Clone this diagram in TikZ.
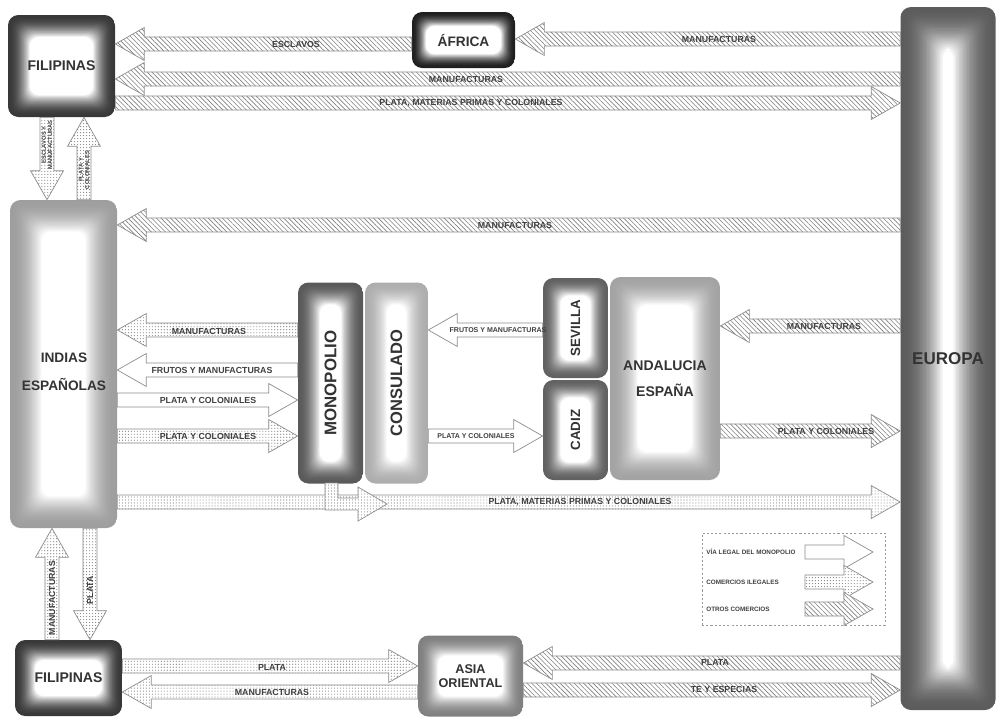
\documentclass[tikz,border=0pt]{standalone}
\usepackage{fontspec}
\setmainfont{Liberation Sans}
\usetikzlibrary{calc,patterns.meta}

\newcommand{\pxu}{0.02cm}
\newcommand{\shaftw}{4pt}
\newcommand{\headw}{9.4pt}
\newcommand{\headl}{16.5}

% horizontal block arrow: style, tail, tip, y
\newcommand{\harrow}[4]{%
  \draw[#1] let \p1=(#2), \p2=(#3), \p3=(0,#4), \n1={sign(\x2-\x1)*\headl} in
    (\x1,{\y3+\shaftw}) -- ({\x2-(\n1)},{\y3+\shaftw}) -- ({\x2-(\n1)},{\y3+\headw})
    -- (\x2,\y3) -- ({\x2-(\n1)},{\y3-\headw}) -- ({\x2-(\n1)},{\y3-\shaftw})
    -- (\x1,{\y3-\shaftw}) -- cycle;}

% vertical block arrow: style, tail, tip, x
\newcommand{\varrow}[4]{%
  \draw[#1] let \p1=(#2), \p2=(#3), \p3=(#4,0), \n1={sign(\y2-\y1)*\headl} in
    ({\x3+\shaftw},\y1) -- ({\x3+\shaftw},{\y2-(\n1)}) -- ({\x3+\headw},{\y2-(\n1)})
    -- (\x3,\y2) -- ({\x3-\headw},{\y2-(\n1)}) -- ({\x3-\shaftw},{\y2-(\n1)})
    -- ({\x3-\shaftw},\y1) -- cycle;}

\tikzset{
  flow/.style={draw=black!45, line width=0.4pt, preaction={fill=white}},
  legal/.style={flow},
  ilegal/.style={flow, pattern={Dots[distance=1.7pt, radius=0.32pt]}, pattern color=black!50},
  otros/.style={flow, pattern={Lines[angle=-45, distance=1.9pt, line width=0.35pt]}, pattern color=black!50},
  lbl/.style={inner sep=0pt, text=black!75, font=\fontsize{5}{6}\selectfont\bfseries},
  lbls/.style={lbl, font=\fontsize{4}{4.5}\selectfont\bfseries},
  lbll/.style={lbl, anchor=west, font=\fontsize{3.6}{4}\selectfont\bfseries},
  lblv/.style={lbl, rotate=90, align=center, font=\fontsize{3.3}{3.6}\selectfont\bfseries},
  vt/.style={rotate=90, inner sep=0pt, text=black!80},
  box/.style 2 args={rounded corners=6pt, inner sep=0pt, align=center, text=black!80,
    path picture={
      \foreach \i in {0,...,30}{
        \pgfmathsetmacro\tone{#1*(1-(\i/30)*(\i/30))}
        \pgfmathsetmacro\ins{#2*\i/30}
        \fill[black!\tone, rounded corners=5pt]
          ([shift={(\ins pt,\ins pt)}]path picture bounding box.south west) rectangle
          ([shift={(-\ins pt,-\ins pt)}]path picture bounding box.north east);
      }}},
}

\begin{document}
\begin{tikzpicture}[x=0.02cm, y=-0.02cm]

\useasboundingbox (0,0) rectangle (996,718);

\node[box={78}{12.5}, minimum width=107*\pxu, minimum height=102*\pxu, font=\fontsize{8}{9.5}\selectfont\bfseries] (filT) at (61.5,66) {FILIPINAS};

\node[box={88}{8}, minimum width=103*\pxu, minimum height=56*\pxu, font=\fontsize{7.8}{9}\selectfont\bfseries] (africa) at (463.5,40) {ÁFRICA};

\node[box={64}{24}, minimum width=95*\pxu, minimum height=703*\pxu, font=\fontsize{9.7}{11}\selectfont\bfseries] (europa) at (948,358.5) {EUROPA};

\node[box={38}{18}, minimum width=107*\pxu, minimum height=328*\pxu] (indias) at (63.5,364) {};
\node[align=center, inner sep=0pt, text=black!80, font=\fontsize{7.8}{16}\selectfont\bfseries] (indiasT) at (64,372) {INDIAS\\ESPAÑOLAS};

\node[box={65}{12.5}, minimum width=65*\pxu, minimum height=201*\pxu] (mono) at (330.5,383) {};

\node[box={32}{12.5}, minimum width=63*\pxu, minimum height=201*\pxu] (consul) at (396.5,383) {};

\node[box={62}{10}, minimum width=65*\pxu, minimum height=100*\pxu] (sevilla) at (575.5,328) {};

\node[box={62}{10}, minimum width=65*\pxu, minimum height=100*\pxu] (cadiz) at (575.5,430) {};

\node[box={36}{16}, minimum width=110*\pxu, minimum height=203*\pxu, font=\fontsize{8}{15}\selectfont\bfseries] (andal) at (665,378.5) {ANDALUCIA\\ESPAÑA};

\node[box={78}{11.4}, minimum width=107*\pxu, minimum height=76*\pxu, font=\fontsize{8}{9.5}\selectfont\bfseries] (filB) at (68.5,678) {FILIPINAS};

\node[box={50}{11.4}, minimum width=105*\pxu, minimum height=81*\pxu, font=\fontsize{7.2}{7.6}\selectfont\bfseries] (asia) at (470.5,676) {ASIA\\ORIENTAL};

\node[vt, font=\fontsize{9.6}{11}\selectfont\bfseries] (monoT) at (mono) {MONOPOLIO};
\node[vt, font=\fontsize{9.4}{11}\selectfont\bfseries] (consulT) at (consul) {CONSULADO};
\node[vt, font=\fontsize{7.6}{9}\selectfont\bfseries] (sevillaT) at (sevilla) {SEVILLA};
\node[vt, font=\fontsize{7.6}{9}\selectfont\bfseries] (cadizT) at (cadiz) {CADIZ};

% top
\harrow{otros}{africa.west}{filT.east}{44}
\harrow{otros}{europa.west}{africa.east}{39}
\harrow{otros}{europa.west}{filT.east}{79}
\harrow{otros}{filT.east}{europa.west}{103}

\node[lbl] (tEsc) at (296,44) {ESCLAVOS};
\node[lbl] (tManA) at (719,39) {MANUFACTURAS};
\node[lbl] (tManF) at (466,79) {MANUFACTURAS};
\node[lbl] (tPlMa) at (471,103) {PLATA, MATERIAS PRIMAS Y COLONIALES};

\varrow{ilegal}{filT.south}{indias.north}{47}
\varrow{ilegal}{indias.north}{filT.south}{84}
\node[lblv] (tEsMa) at (47,145) {ESCLAVOS Y\\MANUFACTURAS};
\node[lblv] (tPlCo) at (84,170) {PLATA Y\\COLONIALES};

% middle
\harrow{otros}{europa.west}{indias.east}{225}
\node[lbl] (tManI) at (515,225) {MANUFACTURAS};

\harrow{ilegal}{mono.west}{indias.east}{330}
\harrow{legal}{mono.west}{indias.east}{370}
\harrow{legal}{indias.east}{mono.west}{400}
\harrow{ilegal}{indias.east}{mono.west}{436}
\node[lbl] (tManM) at (209,331) {MANUFACTURAS};
\node[lbl] (tFrMa) at (212,370) {FRUTOS Y MANUFACTURAS};
\node[lbl] (tPlCa) at (208,400) {PLATA Y COLONIALES};
\node[lbl] (tPlCb) at (208,436) {PLATA Y COLONIALES};

\harrow{legal}{sevilla.west}{consul.east}{330}
\harrow{legal}{consul.east}{cadiz.west}{436}
\node[lbls] (tFrSe) at (498,330) {FRUTOS Y MANUFACTURAS};
\node[lbls] (tPlCd) at (476,436) {PLATA Y COLONIALES};

\harrow{otros}{europa.west}{andal.east}{326}
\harrow{otros}{andal.east}{europa.west}{431}
\node[lbl] (tManE) at (824,326) {MANUFACTURAS};
\node[lbl] (tPlCe) at (826,431) {PLATA Y COLONIALES};

\harrow{ilegal}{indias.east}{europa.west}{502}
\draw[ilegal] (325,483) -- (325,510) -- (358,510) -- (358,521) -- (387,504)
  -- (358,487) -- (358,498) -- (338,498) -- (338,483) -- cycle;
\node[lbl] (tPlMb) at (580,502) {PLATA, MATERIAS PRIMAS Y COLONIALES};

% bottom
\varrow{ilegal}{filB.north}{indias.south}{52}
\varrow{ilegal}{indias.south}{filB.north}{90}
\node[lbl, rotate=90] (tManV) at (52,598) {MANUFACTURAS};
\node[lbl, rotate=90] (tPlV) at (90,590) {PLATA};

\harrow{ilegal}{filB.east}{asia.west}{666}
\harrow{ilegal}{asia.west}{filB.east}{692}
\harrow{otros}{europa.west}{asia.east}{663}
\harrow{otros}{asia.east}{europa.west}{690}
\node[lbl] (tPlF) at (272,667) {PLATA};
\node[lbl] (tManAs) at (272,692) {MANUFACTURAS};
\node[lbl] (tPlAs) at (715,662) {PLATA};
\node[lbl] (tTe) at (724,689) {TE Y ESPECIAS};

% legend
\node[draw=black!40, line width=0.3pt, dash pattern=on 1.2pt off 1.2pt, minimum width=183*\pxu, minimum height=92*\pxu] (legend) at (793.5,579) {};
\node[lbll] (lgA) at (706,552) {VÍA LEGAL DEL MONOPOLIO};
\node[lbll] (lgB) at (706,582) {COMERCIOS ILEGALES};
\node[lbll] (lgC) at (706,609) {OTROS COMERCIOS};
\coordinate (lgA1) at (805,552);
\coordinate (lgA2) at (873,552);
\coordinate (lgB1) at (805,582);
\coordinate (lgB2) at (873,582);
\coordinate (lgC1) at (805,609);
\coordinate (lgC2) at (873,609);
\harrow{legal}{lgA1}{lgA2}{552}
\harrow{ilegal}{lgB1}{lgB2}{582}
\harrow{otros}{lgC1}{lgC2}{609}

\end{tikzpicture}
\end{document}
